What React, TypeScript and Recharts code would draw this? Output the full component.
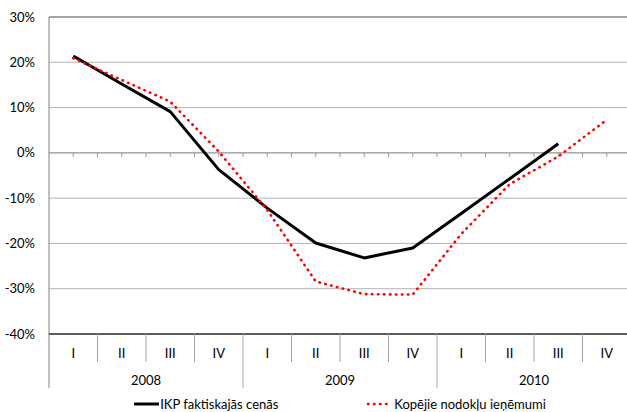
import { LineChart, Line, XAxis, YAxis, CartesianGrid, Legend, ReferenceLine } from 'recharts';

const quarters = ['I', 'II', 'III', 'IV', 'I', 'II', 'III', 'IV', 'I', 'II', 'III', 'IV'];
const years = ['2008', '2009', '2010'];
const gdp = [21.4, 15.2, 9.1, -3.7, -12.2, -19.9, -23.2, -21.0, -13.4, -5.7, 2.0, null];
const tax = [20.9, 16.1, 11.3, 0.3, -12.6, -28.4, -31.2, -31.3, -17.9, -6.9, -0.8, 7.3];
const yTicks = [-40, -30, -20, -10, 0, 10, 20, 30];

const FONT = 'Lato, "Open Sans", sans-serif';

const data = quarters.map((q, i) => ({
  id: `${years[Math.floor(i / 4)]}-${q}`,
  gdp: gdp[i],
  tax: tax[i],
}));

const QuarterTick = (props: any) => {
  const { x, y, payload } = props;
  const i = payload.index ?? props.index;
  const half = payload.offset ?? 0;
  const left = x - half;
  return (
    <g>
      <line x1={left} x2={left} y1={y} y2={y + (i % 4 === 0 ? 54 : 28)} stroke={i === 0 ? '#808080' : '#a6a6a6'} />
      <text x={x} y={y + 19} textAnchor="middle" dominantBaseline="central" fontSize={13} fill="#000" fontFamily={FONT}>
        {quarters[i]}
      </text>
      {i % 4 === 1 && (
        <text x={x + half} y={y + 46} textAnchor="middle" dominantBaseline="central" fontSize={13} fill="#000" fontFamily={FONT}>
          {years[Math.floor(i / 4)]}
        </text>
      )}
    </g>
  );
};

const ZeroLine = (props: any) => {
  const { x1, x2, y1 } = props;
  const step = (x2 - x1) / 24;
  const ticks = [];
  for (let k = 1; k < 24; k++) {
    ticks.push(<line key={k} x1={x1 + k * step} x2={x1 + k * step} y1={y1} y2={y1 + 4} stroke="#9a9a9a" />);
  }
  return (
    <g>
      <line x1={x1} x2={x2} y1={y1} y2={y1} stroke="#9a9a9a" />
      {ticks}
    </g>
  );
};

const LegendContent = () => (
  <div style={{ display: 'flex', justifyContent: 'center', alignItems: 'flex-end', gap: 88, height: 22, lineHeight: '16px', fontFamily: FONT, fontSize: 13, color: '#000' }}>
    <div style={{ display: 'flex', alignItems: 'center' }}>
      <svg width={25} height={6}>
        <line x1={0} x2={25} y1={3} y2={3} stroke="#000" strokeWidth={3} />
      </svg>
      <span style={{ marginLeft: 1 }}>IKP faktiskajās cenās</span>
    </div>
    <div style={{ display: 'flex', alignItems: 'center' }}>
      <svg width={25} height={6}>
        <line x1={2} x2={25} y1={3} y2={3} stroke="#ff0000" strokeWidth={2.6} strokeDasharray="0.5 5.5" strokeLinecap="round" />
      </svg>
      <span style={{ marginLeft: 3 }}>Kopējie nodokļu ieņēmumi</span>
    </div>
  </div>
);

export default function App() {
  return (
    <div style={{ position: 'absolute', left: 0, top: 0, width: 627, height: 412, overflow: 'hidden', background: '#fff' }}>
      <LineChart width={631} height={412} data={data} margin={{ top: 17, right: 0, left: 0, bottom: 0 }}>
        <CartesianGrid vertical={false} stroke="#b3b3b3" />
        <YAxis
          domain={[-40, 30]}
          ticks={yTicks}
          tickFormatter={(v) => `${v}%`}
          width={49}
          tickLine={false}
          tickSize={0}
          tickMargin={14}
          axisLine={{ stroke: '#808080' }}
          tick={{ fontSize: 13, fill: '#000', fontFamily: FONT }}
          interval={0}
        />
        <XAxis
          dataKey="id"
          scale="band"
          height={56}
          interval={0}
          tickLine={false}
          tickSize={0}
          tickMargin={0}
          axisLine={{ stroke: '#333', strokeWidth: 1.5 }}
          tick={<QuarterTick />}
        />
        <ReferenceLine y={30} stroke="#707070" />
        <ReferenceLine y={0} shape={<ZeroLine />} />
        <Line
          type="linear"
          dataKey="gdp"
          stroke="#000"
          strokeWidth={3}
          strokeLinejoin="round"
          dot={false}
          isAnimationActive={false}
        />
        <Line
          type="linear"
          dataKey="tax"
          stroke="#ff0000"
          strokeWidth={2.6}
          strokeDasharray="0.5 5.5"
          strokeLinecap="round"
          dot={false}
          isAnimationActive={false}
        />
        <Legend verticalAlign="bottom" wrapperStyle={{ left: 49, width: 582 }} content={<LegendContent />} />
      </LineChart>
    </div>
  );
}
